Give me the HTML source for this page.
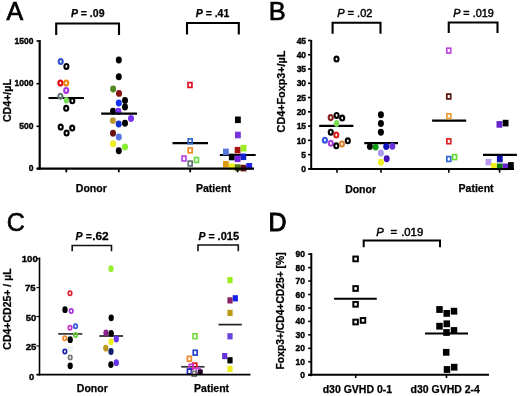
<!DOCTYPE html>
<html><head><meta charset="utf-8"><style>
html,body{margin:0;padding:0;background:#fff;}
svg{display:block;filter:blur(0.3px);}
text{font-family:"Liberation Sans",sans-serif;fill:#000;stroke:#000;stroke-width:0.25px;}
</style></head><body>
<svg width="520" height="396" viewBox="0 0 520 396">
<rect width="520" height="396" fill="#fff"/>
<line x1="48.5" y1="98" x2="83.9" y2="98" stroke="#000" stroke-width="2.2"/>
<line x1="172.5" y1="143.1" x2="208" y2="143.1" stroke="#000" stroke-width="2.2"/>
<line x1="219.9" y1="155" x2="255.7" y2="155" stroke="#000" stroke-width="2.2"/>
<line x1="319.2" y1="125.9" x2="353.4" y2="125.9" stroke="#000" stroke-width="2.2"/>
<line x1="364.3" y1="143.1" x2="398" y2="143.1" stroke="#000" stroke-width="2.2"/>
<line x1="432.1" y1="120.6" x2="466.2" y2="120.6" stroke="#000" stroke-width="2.2"/>
<line x1="483" y1="154.8" x2="516.9" y2="154.8" stroke="#000" stroke-width="2.2"/>
<line x1="58.2" y1="333.9" x2="82.3" y2="333.9" stroke="#333" stroke-width="1.7"/>
<line x1="99.4" y1="336" x2="123" y2="336" stroke="#222" stroke-width="1.7"/>
<line x1="181.2" y1="366.8" x2="204.6" y2="366.8" stroke="#333" stroke-width="1.7"/>
<line x1="218.5" y1="324.6" x2="241.8" y2="324.6" stroke="#222" stroke-width="1.7"/>
<line x1="334.1" y1="298.7" x2="376.8" y2="298.7" stroke="#000" stroke-width="2"/>
<line x1="425" y1="333.4" x2="468" y2="333.4" stroke="#000" stroke-width="2"/>
<ellipse cx="60.7" cy="61.5" rx="2.0" ry="2.45" fill="none" stroke="#3355cc" stroke-width="2.15"/>
<ellipse cx="66.4" cy="66.4" rx="2.0" ry="2.45" fill="none" stroke="#000" stroke-width="2.15"/>
<ellipse cx="60.4" cy="83.1" rx="2.0" ry="2.45" fill="none" stroke="#dd1111" stroke-width="2.15"/>
<ellipse cx="66.2" cy="83.1" rx="2.0" ry="2.45" fill="none" stroke="#ee8811" stroke-width="2.15"/>
<ellipse cx="66.2" cy="90.4" rx="2.0" ry="2.45" fill="none" stroke="#aa33dd" stroke-width="2.15"/>
<ellipse cx="60.4" cy="96.2" rx="2.0" ry="2.45" fill="none" stroke="#667777" stroke-width="2.15"/>
<ellipse cx="72.3" cy="100.8" rx="2.0" ry="2.45" fill="none" stroke="#000" stroke-width="2.15"/>
<ellipse cx="66.2" cy="108.3" rx="2.0" ry="2.45" fill="none" stroke="#000" stroke-width="2.15"/>
<ellipse cx="60.7" cy="127.1" rx="2.0" ry="2.45" fill="none" stroke="#000" stroke-width="2.15"/>
<ellipse cx="66.6" cy="133" rx="2.0" ry="2.45" fill="none" stroke="#000" stroke-width="2.15"/>
<ellipse cx="72.2" cy="128" rx="2.0" ry="2.45" fill="none" stroke="#000" stroke-width="2.15"/>
<ellipse cx="66.3" cy="100.3" rx="2.6" ry="3.3" fill="#77dd55"/>
<ellipse cx="118.8" cy="60" rx="3.0" ry="3.45" fill="#000"/>
<ellipse cx="118.8" cy="76.8" rx="3.0" ry="3.45" fill="#000"/>
<ellipse cx="113.1" cy="89" rx="3.0" ry="3.45" fill="#558822"/>
<ellipse cx="119" cy="93.4" rx="3.0" ry="3.45" fill="#881111"/>
<ellipse cx="125" cy="100.5" rx="3.0" ry="3.45" fill="#000"/>
<ellipse cx="118.8" cy="103" rx="3.0" ry="3.45" fill="#1133ee"/>
<ellipse cx="125" cy="107" rx="3.0" ry="3.45" fill="#000"/>
<ellipse cx="113" cy="111.2" rx="3.0" ry="3.45" fill="#000"/>
<ellipse cx="118.4" cy="111.3" rx="3.0" ry="3.45" fill="#7733ee"/>
<ellipse cx="131" cy="118.5" rx="3.0" ry="3.45" fill="#7733ee"/>
<ellipse cx="112.9" cy="120.6" rx="3.0" ry="3.45" fill="#bb9933"/>
<ellipse cx="118.7" cy="124" rx="3.0" ry="3.45" fill="#1133cc"/>
<ellipse cx="125" cy="123.3" rx="3.0" ry="3.45" fill="#000"/>
<ellipse cx="113" cy="133.3" rx="3.0" ry="3.45" fill="#661111"/>
<ellipse cx="118.8" cy="137" rx="3.0" ry="3.45" fill="#5577dd"/>
<ellipse cx="113" cy="143.8" rx="3.0" ry="3.45" fill="#eeee22"/>
<ellipse cx="125" cy="147" rx="3.0" ry="3.45" fill="#88ee33"/>
<ellipse cx="118.8" cy="150.8" rx="3.0" ry="3.45" fill="#000"/>
<rect x="188.05" y="82.60" width="3.90" height="4.80" fill="none" stroke="#dd1122" stroke-width="1.7"/>
<rect x="188.25" y="138.90" width="3.90" height="4.80" fill="none" stroke="#3366cc" stroke-width="1.7"/>
<rect x="188.25" y="148.00" width="3.90" height="4.80" fill="none" stroke="#ee8822" stroke-width="1.7"/>
<rect x="182.05" y="156.10" width="3.90" height="4.80" fill="none" stroke="#bb44dd" stroke-width="1.7"/>
<rect x="194.55" y="157.60" width="3.90" height="4.80" fill="none" stroke="#66dd44" stroke-width="1.7"/>
<rect x="188.25" y="161.10" width="3.90" height="4.80" fill="none" stroke="#667777" stroke-width="1.7"/>
<rect x="235.00" y="116.50" width="5.80" height="6.60" fill="#000"/>
<rect x="235.00" y="131.70" width="5.80" height="6.60" fill="#7733dd"/>
<rect x="223.00" y="148.60" width="5.80" height="6.60" fill="#5577dd"/>
<rect x="234.70" y="146.90" width="5.80" height="6.60" fill="#aa1111"/>
<rect x="240.60" y="144.90" width="5.80" height="6.60" fill="#99ee22"/>
<rect x="228.90" y="153.70" width="5.80" height="6.60" fill="#000"/>
<rect x="240.40" y="153.50" width="5.80" height="6.60" fill="#1122cc"/>
<rect x="234.70" y="155.50" width="5.80" height="6.60" fill="#7722dd"/>
<rect x="223.00" y="161.00" width="5.80" height="6.60" fill="#dd9911"/>
<rect x="228.90" y="163.50" width="5.80" height="6.60" fill="#eeee11"/>
<rect x="234.80" y="164.30" width="5.80" height="6.60" fill="#557711"/>
<rect x="240.60" y="164.80" width="5.80" height="6.60" fill="#661111"/>
<rect x="246.30" y="163.00" width="5.80" height="6.60" fill="#2222ee"/>
<ellipse cx="336.5" cy="59" rx="2.0" ry="2.45" fill="none" stroke="#000" stroke-width="2.15"/>
<ellipse cx="336.6" cy="115.4" rx="2.0" ry="2.45" fill="none" stroke="#000" stroke-width="2.15"/>
<ellipse cx="330.7" cy="117.6" rx="2.0" ry="2.45" fill="none" stroke="#882222" stroke-width="2.15"/>
<ellipse cx="342.2" cy="118" rx="2.0" ry="2.45" fill="none" stroke="#000" stroke-width="2.15"/>
<ellipse cx="330.8" cy="132.2" rx="2.0" ry="2.45" fill="none" stroke="#000" stroke-width="2.15"/>
<ellipse cx="336.3" cy="135" rx="2.0" ry="2.45" fill="none" stroke="#dd2222" stroke-width="2.15"/>
<ellipse cx="324.9" cy="140.2" rx="2.0" ry="2.45" fill="none" stroke="#3355dd" stroke-width="2.15"/>
<ellipse cx="330.8" cy="143.3" rx="2.0" ry="2.45" fill="none" stroke="#aa44dd" stroke-width="2.15"/>
<ellipse cx="336.3" cy="145.8" rx="2.0" ry="2.45" fill="none" stroke="#000" stroke-width="2.15"/>
<ellipse cx="341.9" cy="144.1" rx="2.0" ry="2.45" fill="none" stroke="#dd8833" stroke-width="2.15"/>
<ellipse cx="347.8" cy="140.8" rx="2.0" ry="2.45" fill="none" stroke="#000" stroke-width="2.15"/>
<ellipse cx="336.6" cy="123.5" rx="2.7" ry="3.4" fill="#77dd55"/>
<ellipse cx="380.9" cy="114.8" rx="3.0" ry="3.45" fill="#000"/>
<ellipse cx="380.9" cy="123.5" rx="3.0" ry="3.45" fill="#000"/>
<ellipse cx="380.9" cy="132.2" rx="3.0" ry="3.45" fill="#000"/>
<ellipse cx="369.9" cy="146.6" rx="3.0" ry="3.45" fill="#000"/>
<ellipse cx="375.6" cy="147.1" rx="3.0" ry="3.45" fill="#119911"/>
<ellipse cx="386.2" cy="146.6" rx="3.0" ry="3.45" fill="#1111bb"/>
<ellipse cx="392.3" cy="146.2" rx="3.0" ry="3.45" fill="#6633dd"/>
<ellipse cx="380.9" cy="153" rx="3.0" ry="3.45" fill="#aa99ee"/>
<ellipse cx="386.7" cy="158.8" rx="3.0" ry="3.45" fill="#4411bb"/>
<ellipse cx="380.9" cy="162.2" rx="3.0" ry="3.45" fill="#eeee22"/>
<rect x="446.80" y="48.20" width="3.90" height="4.80" fill="none" stroke="#bb44dd" stroke-width="1.7"/>
<rect x="446.80" y="94.10" width="3.90" height="4.80" fill="none" stroke="#551111" stroke-width="1.7"/>
<rect x="446.85" y="113.80" width="3.90" height="4.80" fill="none" stroke="#ee9933" stroke-width="1.7"/>
<rect x="446.85" y="138.90" width="3.90" height="4.80" fill="none" stroke="#dd2222" stroke-width="1.7"/>
<rect x="446.85" y="156.60" width="3.90" height="4.80" fill="none" stroke="#3366dd" stroke-width="1.7"/>
<rect x="452.65" y="154.70" width="3.90" height="4.80" fill="none" stroke="#66dd33" stroke-width="1.7"/>
<rect x="496.50" y="121.10" width="5.80" height="6.60" fill="#6622cc"/>
<rect x="502.70" y="119.80" width="5.80" height="6.60" fill="#000"/>
<rect x="496.90" y="155.70" width="5.80" height="6.60" fill="#1111aa"/>
<rect x="485.60" y="158.80" width="5.80" height="6.60" fill="#bb99ee"/>
<rect x="490.90" y="163.10" width="5.80" height="6.60" fill="#eeee11"/>
<rect x="496.90" y="163.50" width="5.80" height="6.60" fill="#117711"/>
<rect x="502.70" y="163.50" width="5.80" height="6.60" fill="#6622cc"/>
<rect x="508.00" y="162.10" width="5.80" height="6.60" fill="#000"/>
<ellipse cx="70" cy="293.3" rx="1.75" ry="2.1" fill="none" stroke="#dd2233" stroke-width="1.7"/>
<ellipse cx="71.2" cy="311" rx="1.75" ry="2.1" fill="none" stroke="#aa33dd" stroke-width="1.7"/>
<ellipse cx="70" cy="327.8" rx="1.75" ry="2.1" fill="none" stroke="#cc33cc" stroke-width="1.7"/>
<ellipse cx="75.5" cy="326.2" rx="1.75" ry="2.1" fill="none" stroke="#3355dd" stroke-width="1.7"/>
<ellipse cx="75.6" cy="335" rx="1.75" ry="2.1" fill="none" stroke="#66cc33" stroke-width="1.7"/>
<ellipse cx="64.7" cy="338.2" rx="1.75" ry="2.1" fill="none" stroke="#ee8822" stroke-width="1.7"/>
<ellipse cx="64.9" cy="351.5" rx="1.75" ry="2.1" fill="none" stroke="#1a22aa" stroke-width="1.7"/>
<ellipse cx="70.3" cy="349" rx="1.75" ry="2.1" fill="none" stroke="#e6f2ec" stroke-width="1.7"/>
<ellipse cx="70.2" cy="357.4" rx="1.75" ry="2.1" fill="none" stroke="#777777" stroke-width="1.7"/>
<ellipse cx="65" cy="309.7" rx="2.65" ry="3.4" fill="#000"/>
<ellipse cx="70.2" cy="339.7" rx="2.65" ry="3.4" fill="#000"/>
<ellipse cx="70.2" cy="365.8" rx="2.65" ry="3.4" fill="#000"/>
<ellipse cx="111" cy="268.7" rx="2.65" ry="3.4" fill="#99ee33"/>
<ellipse cx="111.2" cy="317.8" rx="2.65" ry="3.4" fill="#000"/>
<ellipse cx="106" cy="332.8" rx="2.65" ry="3.4" fill="#882288"/>
<ellipse cx="111.2" cy="333.3" rx="2.65" ry="3.4" fill="#000"/>
<ellipse cx="116.3" cy="339" rx="2.65" ry="3.4" fill="#6633ee"/>
<ellipse cx="111" cy="341.7" rx="2.65" ry="3.4" fill="#eeee22"/>
<ellipse cx="105.8" cy="348.2" rx="2.65" ry="3.4" fill="#bb9922"/>
<ellipse cx="111" cy="351.5" rx="2.65" ry="3.4" fill="#112266"/>
<ellipse cx="110.9" cy="364.6" rx="2.65" ry="3.4" fill="#000"/>
<ellipse cx="116.3" cy="362.7" rx="2.65" ry="3.4" fill="#6633ee"/>
<rect x="193.05" y="333.90" width="3.90" height="4.80" fill="none" stroke="#77dd44" stroke-width="1.7"/>
<rect x="193.25" y="350.30" width="3.90" height="4.80" fill="none" stroke="#2244cc" stroke-width="1.7"/>
<rect x="187.45" y="356.40" width="3.90" height="4.80" fill="none" stroke="#ee8822" stroke-width="1.7"/>
<rect x="192.85" y="363.20" width="3.90" height="4.80" fill="none" stroke="#ee1111" stroke-width="1.7"/>
<rect x="189.35" y="364.30" width="3.90" height="4.80" fill="none" stroke="#cc33dd" stroke-width="1.7"/>
<rect x="187.45" y="369.10" width="3.90" height="4.80" fill="none" stroke="#2222bb" stroke-width="1.7"/>
<rect x="196.15" y="368.10" width="3.90" height="4.80" fill="none" stroke="#cc44ee" stroke-width="1.7"/>
<rect x="192.25" y="371.40" width="3.90" height="4.80" fill="none" stroke="#777777" stroke-width="1.7"/>
<rect x="197.70" y="369.40" width="5.00" height="5.60" fill="#220022"/>
<rect x="227.40" y="277.00" width="5.20" height="6.20" fill="#99ee22"/>
<rect x="232.70" y="295.20" width="5.20" height="6.20" fill="#1122ee"/>
<rect x="227.40" y="297.30" width="5.20" height="6.20" fill="#882266"/>
<rect x="227.40" y="309.80" width="5.20" height="6.20" fill="#bb9911"/>
<rect x="227.40" y="333.20" width="5.20" height="6.20" fill="#6644dd"/>
<rect x="222.10" y="353.00" width="5.20" height="6.20" fill="#6633dd"/>
<rect x="227.40" y="357.20" width="5.20" height="6.20" fill="#000"/>
<rect x="227.40" y="365.80" width="5.20" height="6.20" fill="#eeee22"/>
<rect x="353.35" y="256.55" width="4.50" height="4.70" fill="none" stroke="#000" stroke-width="2.0"/>
<rect x="353.35" y="286.15" width="4.50" height="4.70" fill="none" stroke="#000" stroke-width="2.0"/>
<rect x="353.35" y="301.95" width="4.50" height="4.70" fill="none" stroke="#000" stroke-width="2.0"/>
<rect x="353.35" y="319.65" width="4.50" height="4.70" fill="none" stroke="#000" stroke-width="2.0"/>
<rect x="360.75" y="318.05" width="4.50" height="4.70" fill="none" stroke="#000" stroke-width="2.0"/>
<rect x="436.25" y="306.10" width="6.50" height="6.80" fill="#000"/>
<rect x="443.45" y="310.00" width="6.50" height="6.80" fill="#000"/>
<rect x="450.75" y="307.80" width="6.50" height="6.80" fill="#000"/>
<rect x="436.25" y="322.80" width="6.50" height="6.80" fill="#000"/>
<rect x="443.55" y="320.40" width="6.50" height="6.80" fill="#000"/>
<rect x="443.25" y="329.10" width="6.50" height="6.80" fill="#000"/>
<rect x="450.75" y="327.10" width="6.50" height="6.80" fill="#000"/>
<rect x="442.95" y="348.90" width="6.50" height="6.80" fill="#000"/>
<rect x="443.75" y="366.10" width="6.50" height="6.80" fill="#000"/>
<rect x="450.95" y="363.80" width="6.50" height="6.80" fill="#000"/>
<text x="6.5" y="20" font-size="25" font-weight="normal" text-anchor="start" style="stroke-width:0.7px">A</text>
<line x1="39.7" y1="40" x2="39.7" y2="169.7" stroke="#000" stroke-width="2.2"/>
<line x1="36.7" y1="168.6" x2="254" y2="168.6" stroke="#000" stroke-width="2.2"/>
<line x1="36.5" y1="41" x2="39.7" y2="41" stroke="#000" stroke-width="1.6"/>
<text x="33.5" y="43.6" font-size="8.5" font-weight="bold" text-anchor="end" style="stroke-width:0.4px">1500</text>
<line x1="36.5" y1="83.7" x2="39.7" y2="83.7" stroke="#000" stroke-width="1.6"/>
<text x="33.5" y="86.3" font-size="8.5" font-weight="bold" text-anchor="end" style="stroke-width:0.4px">1000</text>
<line x1="36.5" y1="126.3" x2="39.7" y2="126.3" stroke="#000" stroke-width="1.6"/>
<text x="33.5" y="128.9" font-size="8.5" font-weight="bold" text-anchor="end" style="stroke-width:0.4px">500</text>
<line x1="36.5" y1="168.6" x2="39.7" y2="168.6" stroke="#000" stroke-width="1.6"/>
<text x="33.5" y="171.2" font-size="8.5" font-weight="bold" text-anchor="end" style="stroke-width:0.4px">0</text>
<line x1="66.3" y1="168.6" x2="66.3" y2="172.3" stroke="#000" stroke-width="1.8"/>
<line x1="118.8" y1="168.6" x2="118.8" y2="172.3" stroke="#000" stroke-width="1.8"/>
<line x1="190.2" y1="168.6" x2="190.2" y2="172.3" stroke="#000" stroke-width="1.8"/>
<line x1="237.6" y1="168.6" x2="237.6" y2="172.3" stroke="#000" stroke-width="1.8"/>
<text x="11.2" y="100.6" font-size="10.6" font-weight="bold" text-anchor="middle" transform="rotate(-90 11.2 100.6)">CD4+/µL</text>
<text x="91.3" y="192.1" font-size="10.5" font-weight="bold" text-anchor="middle">Donor</text>
<text x="213.5" y="191.9" font-size="10.5" font-weight="bold" text-anchor="middle">Patient</text>
<path d="M56.2,35 V23.5 H119 V35" fill="none" stroke="#000" stroke-width="2.1"/>
<path d="M187,34.5 V23 H238.8 V34.5" fill="none" stroke="#000" stroke-width="2.1"/>
<text x="87.7" y="17" font-size="10.5" font-weight="bold" text-anchor="middle"><tspan font-style="italic">P</tspan> = .09</text>
<text x="212.5" y="17" font-size="10.5" font-weight="bold" text-anchor="middle"><tspan font-style="italic">P</tspan> = .41</text>
<line x1="101.2" y1="113.6" x2="137" y2="113.6" stroke="#000" stroke-width="2.1"/>
<text transform="translate(268.7 20) scale(1.02 1)" font-size="25" font-weight="normal" text-anchor="start" style="stroke-width:0.6px">B</text>
<line x1="311.2" y1="40" x2="311.2" y2="169.8" stroke="#000" stroke-width="2"/>
<line x1="309.5" y1="168.9" x2="514" y2="168.9" stroke="#000" stroke-width="2"/>
<line x1="308" y1="168.9" x2="311.2" y2="168.9" stroke="#000" stroke-width="1.6"/>
<text x="306.1" y="172.1" font-size="8.5" font-weight="bold" text-anchor="end" style="stroke-width:0.4px">0</text>
<line x1="308" y1="154.63" x2="311.2" y2="154.63" stroke="#000" stroke-width="1.6"/>
<text x="306.1" y="157.82999999999998" font-size="8.5" font-weight="bold" text-anchor="end" style="stroke-width:0.4px">5</text>
<line x1="308" y1="140.36" x2="311.2" y2="140.36" stroke="#000" stroke-width="1.6"/>
<text x="306.1" y="143.56" font-size="8.5" font-weight="bold" text-anchor="end" style="stroke-width:0.4px">10</text>
<line x1="308" y1="126.09" x2="311.2" y2="126.09" stroke="#000" stroke-width="1.6"/>
<text x="306.1" y="129.29" font-size="8.5" font-weight="bold" text-anchor="end" style="stroke-width:0.4px">15</text>
<line x1="308" y1="111.82000000000001" x2="311.2" y2="111.82000000000001" stroke="#000" stroke-width="1.6"/>
<text x="306.1" y="115.02000000000001" font-size="8.5" font-weight="bold" text-anchor="end" style="stroke-width:0.4px">20</text>
<line x1="308" y1="97.55000000000001" x2="311.2" y2="97.55000000000001" stroke="#000" stroke-width="1.6"/>
<text x="306.1" y="100.75000000000001" font-size="8.5" font-weight="bold" text-anchor="end" style="stroke-width:0.4px">25</text>
<line x1="308" y1="83.28" x2="311.2" y2="83.28" stroke="#000" stroke-width="1.6"/>
<text x="306.1" y="86.48" font-size="8.5" font-weight="bold" text-anchor="end" style="stroke-width:0.4px">30</text>
<line x1="308" y1="69.01" x2="311.2" y2="69.01" stroke="#000" stroke-width="1.6"/>
<text x="306.1" y="72.21000000000001" font-size="8.5" font-weight="bold" text-anchor="end" style="stroke-width:0.4px">35</text>
<line x1="308" y1="54.74000000000001" x2="311.2" y2="54.74000000000001" stroke="#000" stroke-width="1.6"/>
<text x="306.1" y="57.94000000000001" font-size="8.5" font-weight="bold" text-anchor="end" style="stroke-width:0.4px">40</text>
<line x1="308" y1="40.47" x2="311.2" y2="40.47" stroke="#000" stroke-width="1.6"/>
<text x="306.1" y="43.67" font-size="8.5" font-weight="bold" text-anchor="end" style="stroke-width:0.4px">45</text>
<line x1="337" y1="168.9" x2="337" y2="172.7" stroke="#000" stroke-width="1.6"/>
<line x1="381" y1="168.9" x2="381" y2="172.7" stroke="#000" stroke-width="1.6"/>
<line x1="448.8" y1="168.9" x2="448.8" y2="172.7" stroke="#000" stroke-width="1.6"/>
<line x1="499.6" y1="168.9" x2="499.6" y2="172.7" stroke="#000" stroke-width="1.6"/>
<text x="284.5" y="91.5" font-size="10.8" font-weight="bold" text-anchor="middle" transform="rotate(-90 284.5 91.5)">CD4+Foxp3+/µL</text>
<text x="360.6" y="192.6" font-size="10.5" font-weight="bold" text-anchor="middle">Donor</text>
<text x="476.1" y="191.7" font-size="10.5" font-weight="bold" text-anchor="middle">Patient</text>
<path d="M332.6,33.8 V22.7 H380.5 V33.8" fill="none" stroke="#000" stroke-width="2.1"/>
<path d="M448.75,33 V22.5 H497.5 V33" fill="none" stroke="#000" stroke-width="2.1"/>
<text x="354.8" y="16.8" font-size="11" font-weight="normal" text-anchor="middle" style="stroke-width:0.45px"><tspan font-style="italic">P</tspan> = .02</text>
<text x="473.4" y="16.8" font-size="10.8" font-weight="normal" text-anchor="middle" style="stroke-width:0.45px"><tspan font-style="italic">P</tspan> = .019</text>
<text x="6.8" y="231" font-size="25" font-weight="normal" text-anchor="start" style="stroke-width:0.6px">C</text>
<line x1="39.5" y1="257.5" x2="39.5" y2="375.4" stroke="#000" stroke-width="1.6"/>
<line x1="36.7" y1="374.6" x2="250.5" y2="374.6" stroke="#000" stroke-width="1.8"/>
<line x1="36.3" y1="258.6" x2="39.5" y2="258.6" stroke="#000" stroke-width="1.1"/>
<line x1="36.3" y1="287.6" x2="39.5" y2="287.6" stroke="#000" stroke-width="1.1"/>
<line x1="36.3" y1="316.6" x2="39.5" y2="316.6" stroke="#000" stroke-width="1.1"/>
<line x1="36.3" y1="345.9" x2="39.5" y2="345.9" stroke="#000" stroke-width="1.1"/>
<line x1="36.3" y1="374.6" x2="39.5" y2="374.6" stroke="#000" stroke-width="1.1"/>
<text x="37.7" y="261.8" font-size="9.5" font-weight="bold" text-anchor="end" style="stroke-width:0.4px">100</text>
<text x="35.6" y="291.2" font-size="9.5" font-weight="bold" text-anchor="end" style="stroke-width:0.4px">75</text>
<text x="36.3" y="321" font-size="9.5" font-weight="bold" text-anchor="end" style="stroke-width:0.4px">50</text>
<text x="36.3" y="350" font-size="9.5" font-weight="bold" text-anchor="end" style="stroke-width:0.4px">25</text>
<text x="34.2" y="380" font-size="9.5" font-weight="bold" text-anchor="end" style="stroke-width:0.4px">0</text>
<text x="11" y="309" font-size="10.5" font-weight="bold" text-anchor="middle" transform="rotate(-90 11 309)">CD4+CD25+ / µL</text>
<text x="92.3" y="392.3" font-size="10.5" font-weight="bold" text-anchor="middle">Donor</text>
<text x="211.6" y="392.3" font-size="10.5" font-weight="bold" text-anchor="middle">Patient</text>
<path d="M72.2,251.2 V245.5 H111.5 V251.2" fill="none" stroke="#111" stroke-width="1.6"/>
<path d="M198,251.2 V245 H238.3 V251.2" fill="none" stroke="#111" stroke-width="1.6"/>
<text x="75.6" y="239.6" font-size="10.5" font-weight="bold" text-anchor="start" font-style="italic">P</text>
<text x="85.8" y="239.6" font-size="10.5" font-weight="bold" text-anchor="start">=</text>
<text transform="translate(92.2 239.6) scale(1.13 1)" font-size="10.5" font-weight="bold" text-anchor="start">.62</text>
<text x="198.6" y="239.8" font-size="10.5" font-weight="bold" text-anchor="start" font-style="italic">P</text>
<text x="208.6" y="239.8" font-size="10.5" font-weight="bold" text-anchor="start">=</text>
<text transform="translate(217.6 239.8) scale(1.05 1)" font-size="10.5" font-weight="bold" text-anchor="start">.015</text>
<text x="268.6" y="231" font-size="25" font-weight="normal" text-anchor="start" style="stroke-width:0.9px">D</text>
<line x1="311.3" y1="253" x2="311.3" y2="376.2" stroke="#000" stroke-width="2"/>
<line x1="308.2" y1="374.8" x2="489" y2="374.8" stroke="#000" stroke-width="2"/>
<line x1="308.2" y1="375.2" x2="311.3" y2="375.2" stroke="#000" stroke-width="1.6"/>
<text x="305" y="378.2" font-size="8.5" font-weight="bold" text-anchor="end" style="stroke-width:0.4px">0</text>
<line x1="308.2" y1="361.75" x2="311.3" y2="361.75" stroke="#000" stroke-width="1.6"/>
<text x="305" y="364.75" font-size="8.5" font-weight="bold" text-anchor="end" style="stroke-width:0.4px">10</text>
<line x1="308.2" y1="348.3" x2="311.3" y2="348.3" stroke="#000" stroke-width="1.6"/>
<text x="305" y="351.3" font-size="8.5" font-weight="bold" text-anchor="end" style="stroke-width:0.4px">20</text>
<line x1="308.2" y1="334.85" x2="311.3" y2="334.85" stroke="#000" stroke-width="1.6"/>
<text x="305" y="337.85" font-size="8.5" font-weight="bold" text-anchor="end" style="stroke-width:0.4px">30</text>
<line x1="308.2" y1="321.4" x2="311.3" y2="321.4" stroke="#000" stroke-width="1.6"/>
<text x="305" y="324.4" font-size="8.5" font-weight="bold" text-anchor="end" style="stroke-width:0.4px">40</text>
<line x1="308.2" y1="307.95" x2="311.3" y2="307.95" stroke="#000" stroke-width="1.6"/>
<text x="305" y="310.95" font-size="8.5" font-weight="bold" text-anchor="end" style="stroke-width:0.4px">50</text>
<line x1="308.2" y1="294.5" x2="311.3" y2="294.5" stroke="#000" stroke-width="1.6"/>
<text x="305" y="297.5" font-size="8.5" font-weight="bold" text-anchor="end" style="stroke-width:0.4px">60</text>
<line x1="308.2" y1="281.05" x2="311.3" y2="281.05" stroke="#000" stroke-width="1.6"/>
<text x="305" y="284.05" font-size="8.5" font-weight="bold" text-anchor="end" style="stroke-width:0.4px">70</text>
<line x1="308.2" y1="267.6" x2="311.3" y2="267.6" stroke="#000" stroke-width="1.6"/>
<text x="305" y="270.6" font-size="8.5" font-weight="bold" text-anchor="end" style="stroke-width:0.4px">80</text>
<line x1="308.2" y1="254.14999999999998" x2="311.3" y2="254.14999999999998" stroke="#000" stroke-width="1.6"/>
<text x="305" y="257.15" font-size="8.5" font-weight="bold" text-anchor="end" style="stroke-width:0.4px">90</text>
<line x1="355.7" y1="374.8" x2="355.7" y2="378" stroke="#000" stroke-width="1.6"/>
<line x1="446.5" y1="374.8" x2="446.5" y2="378" stroke="#000" stroke-width="1.6"/>
<text x="284.5" y="310.9" font-size="10.3" font-weight="bold" text-anchor="middle" transform="rotate(-90 284.5 310.9)">Foxp3+/CD4+CD25+ [%]</text>
<text x="357.4" y="392.8" font-size="10.5" font-weight="bold" text-anchor="middle">d30 GVHD 0-1</text>
<text x="445.2" y="392.8" font-size="10.5" font-weight="bold" text-anchor="middle">d30 GVHD 2-4</text>
<path d="M363.7,247.3 V240.5 H440 V247.3" fill="none" stroke="#000" stroke-width="2"/>
<text x="376.3" y="235.9" font-size="11.3" font-weight="normal" text-anchor="start" style="stroke-width:0.45px"><tspan font-style="italic">P</tspan></text>
<text x="390.5" y="235.9" font-size="11.3" font-weight="normal" text-anchor="start" style="stroke-width:0.45px">=</text>
<text x="401.2" y="235.9" font-size="11.3" font-weight="normal" text-anchor="start" style="stroke-width:0.45px">.019</text>
</svg>
</body></html>
